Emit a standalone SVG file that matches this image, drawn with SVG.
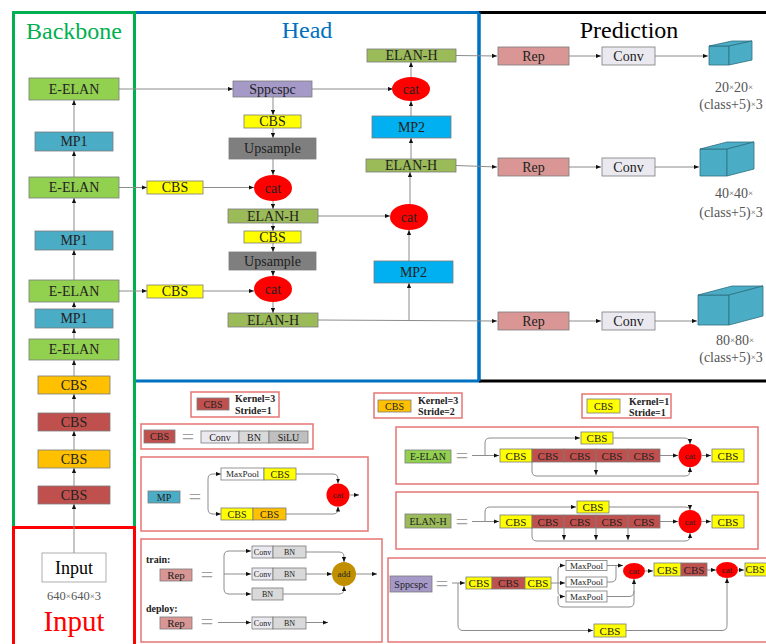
<svg xmlns="http://www.w3.org/2000/svg" width="766" height="644" viewBox="0 0 766 644">
<defs>
<marker id="ah" viewBox="0 0 6 6" refX="6" refY="3" markerWidth="5" markerHeight="5" markerUnits="userSpaceOnUse" orient="auto"><path d="M0,0.5 L6,3 L0,5.5 z" fill="#111"/></marker>
</defs>
<style>
text{font-family:"Liberation Serif","Times New Roman",serif;fill:#222;text-anchor:middle;dominant-baseline:central}
.f14{font-size:14px}
.f11{font-size:11px}
.f10{font-size:10px}
.f9{font-size:9px}
.f8{font-size:8px}
.b{font-weight:bold;text-anchor:start}
.eq{font-size:22px;fill:#a0a0a0}
.ln{fill:none;stroke:#8c8c8c;stroke-width:1}
.a{marker-end:url(#ah)}
rect.n,ellipse.n,circle.n,polygon.n{stroke:#7a7a7a;stroke-width:0.8}
.ee{fill:#92d050}
.mp1{fill:#4bacc6}
.cbo{fill:#ffc000}
.cbr{fill:#c0504d}
.cby{fill:#ffff00}
.elh{fill:#9bbb59}
.spp{fill:#a599c8}
.ups{fill:#7f7f7f}
.cat{fill:#ff0000}
.mp2{fill:#00b0f0}
.rep{fill:#d99694}
.conv{fill:#ebe9f0}
.bn{fill:#d9d9d9}
.silu{fill:#bfbfbf}
.wh{fill:#ffffff}
.add{fill:#c09000}
.cube{fill:#4bacc6;stroke:#2d6f80;stroke-width:0.8}
.lg{fill:none;stroke:#e87474;stroke-width:1.5}
.dim{font-size:14px;fill:#555}
.x{font-size:9px}
</style>
<rect width="766" height="644" fill="#ffffff"/>

<g id="frames">
<path d="M134.5,381 H479 V12.5 H134.5" fill="none" stroke="#0070c0" stroke-width="3"/>
<path d="M479,12.5 H770 M479,381 H770" fill="none" stroke="#000" stroke-width="3"/>
<path d="M479,12.5 V381" fill="none" stroke="#0070c0" stroke-width="3"/>
<path d="M134.5,527 V12.5 H13.5 V527" fill="none" stroke="#00b050" stroke-width="3"/>
<path d="M13.5,646 V527.5 H134.5 V646" fill="none" stroke="#ff0000" stroke-width="3"/>
<text x="74" y="30.5" style="font-size:24px;fill:#00b050">Backbone</text>
<text x="307" y="30" style="font-size:24px;fill:#0070c0">Head</text>
<text x="629" y="30" style="font-size:24px;fill:#000">Prediction</text>
<text x="74" y="621" style="font-size:29px;fill:#ff0000">Input</text>
</g>

<g id="connectors">
<path class="ln a" d="M74,553 V504"/>
<path class="ln a" d="M74,486 V468"/>
<path class="ln a" d="M74,450 V431"/>
<path class="ln a" d="M74,413 V394"/>
<path class="ln a" d="M74,376 V360"/>
<path class="ln a" d="M74,339 V328"/>
<path class="ln a" d="M74,309 V302"/>
<path class="ln a" d="M74,280 V250"/>
<path class="ln a" d="M74,231 V198"/>
<path class="ln a" d="M74,177 V151"/>
<path class="ln a" d="M74,132 V100"/>
<path class="ln a" d="M119,89 H233"/>
<path class="ln a" d="M312,89 H393"/>
<path class="ln a" d="M273,97 V115"/>
<path class="ln a" d="M273,128 V138"/>
<path class="ln a" d="M273,159 V175"/>
<path class="ln a" d="M119,187.5 H147"/>
<path class="ln a" d="M203,187.5 H254"/>
<path class="ln a" d="M273,201 V209"/>
<path class="ln a" d="M318,216 H390"/>
<path class="ln a" d="M273,223 V231"/>
<path class="ln a" d="M273,243 V252"/>
<path class="ln a" d="M273,270 V276"/>
<path class="ln a" d="M119,291 H147"/>
<path class="ln a" d="M203,291 H254"/>
<path class="ln a" d="M273,302 V313"/>
<path class="ln a" d="M318,320 L497,321"/>
<path class="ln a" d="M409,320.5 V283"/>
<path class="ln a" d="M409,261 V230"/>
<path class="ln a" d="M410,204 V172"/>
<path class="ln a" d="M411,159 V138"/>
<path class="ln a" d="M411,116 V101"/>
<path class="ln a" d="M411,77 V62"/>
<path class="ln a" d="M456,55.5 L497,56"/>
<path class="ln a" d="M456,165.5 L497,167"/>
<path class="ln a" d="M569,56 H601"/>
<path class="ln a" d="M655,56 H708"/>
<path class="ln a" d="M569,167 H601"/>
<path class="ln a" d="M655,167 H699"/>
<path class="ln a" d="M569,321 H601"/>
<path class="ln a" d="M655,321 H697"/>
<path class="ln a" d="M472,455.5 H499"/>
<path class="ln a" d="M485,455.5 V443 Q485,438 490,438 H580"/>
<path class="ln a" d="M613,438 H684 Q690,438 690,444"/>
<path class="ln a" d="M660,455.5 H678"/>
<path class="ln a" d="M701.5,455.5 H711"/>
<path class="ln a" d="M532,462 V471 Q532,476 537,476 H685 Q690,476 690,471 V467"/>
<path class="ln a" d="M596,462 V475"/>
<path class="ln a" d="M472,521.5 H499"/>
<path class="ln a" d="M485,521.5 V512 Q485,507 490,507 H576"/>
<path class="ln a" d="M609,507 H684 Q690,507 690,510"/>
<path class="ln a" d="M660,521.5 H678"/>
<path class="ln a" d="M701.5,521.5 H711"/>
<path class="ln a" d="M532,528 V536 Q532,541 537,541 H685 Q690,541 690,536 V533"/>
<path class="ln a" d="M564,528 V540"/>
<path class="ln a" d="M596,528 V540"/>
<path class="ln a" d="M628,528 V540"/>
<path class="ln a" d="M208,494 V479 Q208,474 213,474 H221"/>
<path class="ln a" d="M208,494 V509 Q208,514 213,514 H221"/>
<path class="ln a" d="M296,474 H333 Q338,474 338,479 V483.5"/>
<path class="ln a" d="M286,514 H333 Q338,514 338,509 V506.5"/>
<path class="ln a" d="M349.5,495 H359"/>
<path class="ln a" d="M224,574 H251"/>
<path class="ln a" d="M224,574 V556 Q224,551 229,551 H251"/>
<path class="ln a" d="M224,574 V589 Q224,594 229,594 H251"/>
<path class="ln a" d="M306,552 H339 Q344,552 344,557 V562"/>
<path class="ln a" d="M306,574 H332"/>
<path class="ln a" d="M283,594 H339 Q344,594 344,589 V586"/>
<path class="ln a" d="M356,574 H377"/>
<path class="ln a" d="M218,622.5 H251"/>
<path class="ln a" d="M306,622.5 H328"/>
<path class="ln a" d="M452,583 H465"/>
<path class="ln a" d="M458,583 V625 Q458,630.5 463,630.5 H593"/>
<path class="ln" d="M551,583 H558"/>
<path class="ln a" d="M558,583 H565"/>
<path class="ln a" d="M558,583 V570 Q558,565.5 563,565.5 H565"/>
<path class="ln a" d="M558,583 V591 Q558,596.5 563,596.5 H565"/>
<path class="ln a" d="M558,596 V602 Q558,607 563,607 H629 Q634,607 634,602 V579"/>
<path class="ln a" d="M607,565.5 H623"/>
<path class="ln" d="M607,582 H611 Q616,582 616,577 V565.5"/>
<path class="ln" d="M607,596.5 H629 Q634,596.5 634,591"/>
<path class="ln a" d="M645,571 H653"/>
<path class="ln a" d="M707,570 H716"/>
<path class="ln a" d="M738,570 H744"/>
<path class="ln a" d="M626,630.5 H722 Q727,630.5 727,625.5 V578"/>
</g>

<g id="bb_eelan1"><rect class="n ee" x="29" y="78" width="90" height="22"/><text class="f14" x="74" y="89">E-ELAN</text></g>
<g id="bb_mp1_1"><rect class="n mp1" x="35" y="132" width="78" height="19"/><text class="f14" x="74" y="141.5">MP1</text></g>
<g id="bb_eelan2"><rect class="n ee" x="29" y="177" width="90" height="21"/><text class="f14" x="74" y="187.5">E-ELAN</text></g>
<g id="bb_mp1_2"><rect class="n mp1" x="35" y="231" width="78" height="19"/><text class="f14" x="74" y="240.5">MP1</text></g>
<g id="bb_eelan3"><rect class="n ee" x="29" y="280" width="90" height="22"/><text class="f14" x="74" y="291">E-ELAN</text></g>
<g id="bb_mp1_3"><rect class="n mp1" x="35" y="309" width="78" height="19"/><text class="f14" x="74" y="318.5">MP1</text></g>
<g id="bb_eelan4"><rect class="n ee" x="29" y="339" width="90" height="21"/><text class="f14" x="74" y="349.5">E-ELAN</text></g>
<g id="bb_cbs1"><rect class="n cbo" x="38" y="376" width="72" height="18"/><text class="f14" x="74" y="385">CBS</text></g>
<g id="bb_cbs2"><rect class="n cbr" x="38" y="413" width="72" height="18"/><text class="f14" x="74" y="422">CBS</text></g>
<g id="bb_cbs3"><rect class="n cbo" x="38" y="450" width="72" height="18"/><text class="f14" x="74" y="459">CBS</text></g>
<g id="bb_cbs4"><rect class="n cbr" x="38" y="486" width="72" height="18"/><text class="f14" x="74" y="495">CBS</text></g>
<g id="input"><rect class="n wh" x="42" y="553" width="64" height="29" style="stroke:#999"/><text x="74" y="567.5" style="font-size:18px;fill:#000">Input</text><text x="74" y="596" style="font-size:12.5px;fill:#555">640<tspan class="x">×</tspan>640<tspan class="x">×</tspan>3</text></g>

<g id="h_sppcspc"><rect class="n spp" x="233" y="81" width="79" height="16"/><text class="f14" x="272.5" y="89">Sppcspc</text></g>
<g id="h_cbs1"><rect class="n cby" x="244" y="115" width="57" height="13"/><text class="f14" x="272.5" y="121.5">CBS</text></g>
<g id="h_ups1"><rect class="n ups" x="229" y="138" width="87" height="21"/><text class="f14" x="272.5" y="148.5">Upsample</text></g>
<g id="h_cbs_l1"><rect class="n cby" x="147" y="181" width="56" height="13"/><text class="f14" x="175" y="187.5">CBS</text></g>
<g id="h_cat1"><ellipse class="cat" cx="273" cy="188" rx="19" ry="13"/><text class="f14" x="273" y="188">cat</text></g>
<g id="h_elanh1"><rect class="n elh" x="228" y="209" width="90" height="14"/><text class="f14" x="273" y="216">ELAN-H</text></g>
<g id="h_cbs2"><rect class="n cby" x="244" y="231" width="57" height="12"/><text class="f14" x="272.5" y="237">CBS</text></g>
<g id="h_ups2"><rect class="n ups" x="229" y="252" width="87" height="18"/><text class="f14" x="272.5" y="261">Upsample</text></g>
<g id="h_cbs_l2"><rect class="n cby" x="147" y="285" width="56" height="13"/><text class="f14" x="175" y="291.5">CBS</text></g>
<g id="h_cat2"><ellipse class="cat" cx="273" cy="289" rx="19" ry="13"/><text class="f14" x="273" y="289">cat</text></g>
<g id="h_elanh2"><rect class="n elh" x="228" y="313" width="90" height="14"/><text class="f14" x="273" y="320">ELAN-H</text></g>
<g id="h_elanh3"><rect class="n elh" x="367" y="49" width="89" height="13"/><text class="f14" x="411.5" y="55.5">ELAN-H</text></g>
<g id="h_cat3"><ellipse class="cat" cx="411" cy="89" rx="19" ry="12"/><text class="f14" x="411" y="89">cat</text></g>
<g id="h_mp2a"><rect class="n mp2" x="372" y="116" width="79" height="22"/><text class="f14" x="411.5" y="127">MP2</text></g>
<g id="h_elanh4"><rect class="n elh" x="366" y="159" width="90" height="13"/><text class="f14" x="411" y="165.5">ELAN-H</text></g>
<g id="h_cat4"><ellipse class="cat" cx="409" cy="217" rx="19" ry="13"/><text class="f14" x="409" y="217">cat</text></g>
<g id="h_mp2b"><rect class="n mp2" x="374" y="261" width="79" height="22"/><text class="f14" x="413.5" y="272">MP2</text></g>

<g id="p_rep1"><rect class="n rep" x="498" y="47" width="71" height="18"/><text class="f14" x="533.5" y="56">Rep</text></g>
<g id="p_conv1"><rect class="n conv" x="602" y="47" width="53" height="18"/><text class="f14" x="628.5" y="56">Conv</text></g>
<g id="p_out1"><polygon class="cube" points="709,46 729,46 729,65 709,65"/><polygon class="cube" points="709,46 732,41 752,41 729,46"/><polygon class="cube" points="729,46 752,41 752,60 729,65"/><text class="dim" x="734" y="87">20<tspan class="x">×</tspan>20<tspan class="x">×</tspan></text><text class="dim" x="731" y="104">(class+5)<tspan class="x">×</tspan>3</text></g>
<g id="p_rep2"><rect class="n rep" x="498" y="158" width="71" height="18"/><text class="f14" x="533.5" y="167">Rep</text></g>
<g id="p_conv2"><rect class="n conv" x="602" y="158" width="53" height="18"/><text class="f14" x="628.5" y="167">Conv</text></g>
<g id="p_out2"><polygon class="cube" points="700,149 727,149 727,176 700,176"/><polygon class="cube" points="700,149 727,142 754,142 727,149"/><polygon class="cube" points="727,149 754,142 754,169 727,176"/><text class="dim" x="734" y="193">40<tspan class="x">×</tspan>40<tspan class="x">×</tspan></text><text class="dim" x="731" y="212">(class+5)<tspan class="x">×</tspan>3</text></g>
<g id="p_rep3"><rect class="n rep" x="498" y="312" width="71" height="18"/><text class="f14" x="533.5" y="321">Rep</text></g>
<g id="p_conv3"><rect class="n conv" x="602" y="312" width="53" height="18"/><text class="f14" x="628.5" y="321">Conv</text></g>
<g id="p_out3"><polygon class="cube" points="698,295 729,295 729,325 698,325"/><polygon class="cube" points="698,295 732,286 763,286 729,295"/><polygon class="cube" points="729,295 763,286 763,316 729,325"/><text class="dim" x="735" y="340">80<tspan class="x">×</tspan>80<tspan class="x">×</tspan></text><text class="dim" x="731" y="357">(class+5)<tspan class="x">×</tspan>3</text></g>

<g id="lg_k3s1"><rect class="lg" x="191" y="392" width="88" height="25"/><rect class="n cbr" x="197" y="398" width="32" height="12"/><text class="f10" x="213" y="404">CBS</text><text class="f10 b" x="235" y="398.5">Kernel=3</text><text class="f10 b" x="235" y="410">Stride=1</text></g>
<g id="lg_k3s2"><rect class="lg" x="374" y="393" width="88" height="25"/><rect class="n cbo" x="378" y="400" width="33" height="12"/><text class="f10" x="394.5" y="406">CBS</text><text class="f10 b" x="418" y="400">Kernel=3</text><text class="f10 b" x="418" y="411.5">Stride=2</text></g>
<g id="lg_k1s1"><rect class="lg" x="582" y="394" width="89" height="24"/><rect class="n cby" x="587" y="399" width="33" height="14"/><text class="f10" x="603.5" y="406">CBS</text><text class="f10 b" x="629" y="401">Kernel=1</text><text class="f10 b" x="629" y="412">Stride=1</text></g>

<g id="lg_cbs"><rect class="lg" x="141" y="424" width="172" height="25"/><rect class="n cbr" x="144" y="430" width="31" height="13"/><text class="f10" x="159.5" y="436.5">CBS</text><text class="eq" x="188" y="436">=</text><rect class="n conv" x="201" y="431" width="38" height="12"/><text class="f10" x="220" y="437">Conv</text><rect class="n bn" x="239" y="431" width="30" height="12"/><text class="f10" x="254" y="437">BN</text><rect class="n silu" x="269" y="431" width="39" height="12"/><text class="f10" x="288.5" y="437">SiLU</text></g>

<g id="lg_eelan"><rect class="lg" x="396" y="427" width="362" height="57"/><rect class="n ee" x="405" y="450" width="46" height="13"/><text class="f10" x="428" y="456.5">E-ELAN</text><text class="eq" x="462" y="455">=</text>
<rect class="n cby" x="581" y="432" width="32" height="12"/><text class="f11" x="597" y="438">CBS</text>
<rect class="n cby" x="500" y="449" width="32" height="13"/><text class="f11" x="516" y="455.5">CBS</text>
<rect class="n cbr" x="532" y="449" width="32" height="13"/><text class="f11" x="548" y="455.5">CBS</text>
<rect class="n cbr" x="564" y="449" width="32" height="13"/><text class="f11" x="580" y="455.5">CBS</text>
<rect class="n cbr" x="596" y="449" width="32" height="13"/><text class="f11" x="612" y="455.5">CBS</text>
<rect class="n cbr" x="628" y="449" width="32" height="13"/><text class="f11" x="644" y="455.5">CBS</text>
<circle class="cat" cx="690" cy="455.5" r="11.5"/><text class="f9" x="690" y="455.5">cat</text>
<rect class="n cby" x="712" y="449" width="32" height="13"/><text class="f11" x="728" y="455.5">CBS</text></g>

<g id="lg_elanh"><rect class="lg" x="396" y="492" width="362" height="57"/><rect class="n elh" x="405" y="514" width="46" height="14"/><text class="f10" x="428" y="521">ELAN-H</text><text class="eq" x="462" y="521">=</text>
<rect class="n cby" x="577" y="501" width="32" height="12"/><text class="f11" x="593" y="507">CBS</text>
<rect class="n cby" x="500" y="515" width="32" height="13"/><text class="f11" x="516" y="521.5">CBS</text>
<rect class="n cbr" x="532" y="515" width="32" height="13"/><text class="f11" x="548" y="521.5">CBS</text>
<rect class="n cbr" x="564" y="515" width="32" height="13"/><text class="f11" x="580" y="521.5">CBS</text>
<rect class="n cbr" x="596" y="515" width="32" height="13"/><text class="f11" x="612" y="521.5">CBS</text>
<rect class="n cbr" x="628" y="515" width="32" height="13"/><text class="f11" x="644" y="521.5">CBS</text>
<circle class="cat" cx="690" cy="521.5" r="11.5"/><text class="f9" x="690" y="521.5">cat</text>
<rect class="n cby" x="712" y="515" width="32" height="13"/><text class="f11" x="728" y="521.5">CBS</text></g>

<g id="lg_mp"><rect class="lg" x="141" y="457" width="227" height="74"/><rect class="n mp1" x="148" y="491" width="32" height="12"/><text class="f10" x="164" y="497">MP</text><text class="eq" x="195" y="496">=</text>
<rect class="n wh" x="221" y="468" width="43" height="12"/><text class="f9" x="242.5" y="474">MaxPool</text>
<rect class="n cby" x="264" y="468" width="32" height="12"/><text class="f10" x="280" y="474">CBS</text>
<rect class="n cby" x="221" y="508" width="32" height="12"/><text class="f10" x="237" y="514">CBS</text>
<rect class="n cbo" x="253" y="508" width="33" height="12"/><text class="f10" x="269.5" y="514">CBS</text>
<circle class="cat" cx="338" cy="495" r="11.5"/><text class="f9" x="338" y="495">cat</text></g>

<g id="lg_rep"><rect class="lg" x="141" y="539" width="241" height="103"/>
<text class="f10 b" x="146" y="559">train:</text>
<rect class="n rep" x="160" y="569" width="32" height="12"/><text class="f11" x="176" y="575">Rep</text><text class="eq" x="207" y="574">=</text>
<rect class="n conv" x="252" y="546" width="21" height="12"/><text class="f8" x="262.5" y="552">Conv</text><rect class="n bn" x="273" y="546" width="33" height="12"/><text class="f8" x="289.5" y="552">BN</text>
<rect class="n conv" x="252" y="568" width="21" height="12"/><text class="f8" x="262.5" y="574">Conv</text><rect class="n bn" x="273" y="568" width="33" height="12"/><text class="f8" x="289.5" y="574">BN</text>
<rect class="n bn" x="252" y="588" width="31" height="12"/><text class="f8" x="267.5" y="594">BN</text>
<circle class="add" cx="344" cy="574" r="12"/><text class="f9" x="344" y="574">add</text>
<text class="f10 b" x="146" y="608">deploy:</text>
<rect class="n rep" x="160" y="617" width="32" height="12"/><text class="f11" x="176" y="623">Rep</text><text class="eq" x="207" y="621">=</text>
<rect class="n conv" x="252" y="617" width="21" height="12"/><text class="f8" x="262.5" y="623">Conv</text><rect class="n bn" x="273" y="617" width="33" height="12"/><text class="f8" x="289.5" y="623">BN</text></g>

<g id="lg_sppcspc"><rect class="lg" x="388" y="558" width="385" height="84"/><rect class="n spp" x="390" y="576" width="42" height="16"/><text class="f10" x="411" y="584">Sppcspc</text><text class="eq" x="442" y="583">=</text>
<rect class="n cby" x="466" y="577" width="26" height="12"/><text class="f11" x="479" y="583">CBS</text>
<rect class="n cbr" x="492" y="577" width="33" height="12"/><text class="f11" x="508.5" y="583">CBS</text>
<rect class="n cby" x="525" y="577" width="26" height="12"/><text class="f11" x="538" y="583">CBS</text>
<rect class="n wh" x="566" y="560.5" width="41" height="10"/><text class="f9" x="586.5" y="565.5">MaxPool</text>
<rect class="n wh" x="566" y="577" width="41" height="10"/><text class="f9" x="586.5" y="582">MaxPool</text>
<rect class="n wh" x="566" y="591" width="41" height="11"/><text class="f9" x="586.5" y="596.5">MaxPool</text>
<ellipse class="cat" cx="634" cy="571" rx="11" ry="8"/><text class="f9" x="634" y="571">cat</text>
<rect class="n cby" x="654" y="563" width="27" height="13"/><text class="f11" x="667.5" y="569.5">CBS</text>
<rect class="n cbr" x="681" y="563" width="26" height="13"/><text class="f11" x="694" y="569.5">CBS</text>
<ellipse class="cat" cx="727" cy="570" rx="11" ry="8"/><text class="f9" x="727" y="570">cat</text>
<rect class="n cby" x="745" y="563" width="32" height="13"/><text class="f10" x="755" y="569.5">CBS</text>
<rect class="n cby" x="594" y="624" width="32" height="13"/><text class="f11" x="610" y="630.5">CBS</text></g>
</svg>
